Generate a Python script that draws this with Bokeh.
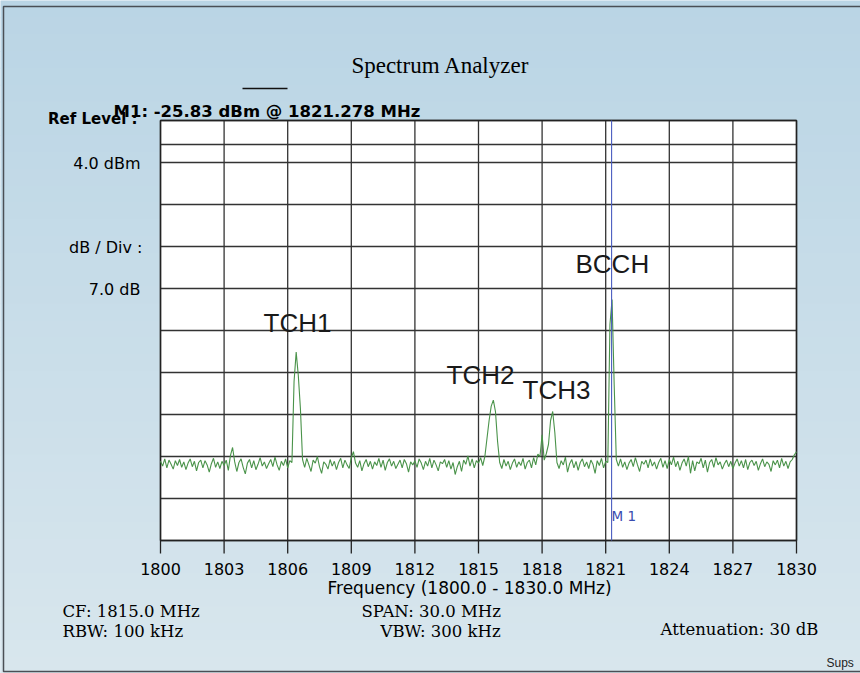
from bokeh.plotting import figure
from bokeh.models import Range1d
from bokeh.core.properties import value
from bokeh.embed import file_html
from bokeh.resources import INLINE

# ---------------- data ----------------
sweep_start_mhz = 1800.0
sweep_step_mhz = 0.1
# measured trace level (dBm), one value per 0.1 MHz from 1800.0 to 1830.0
trace_dbm = [
    -52.8, -53.6, -52.4, -53.9, -52.6, -53.3, -54.1, -52.7, -53.5, -52.5,  # 1800
    -53.8, -52.9, -54.2, -53.1, -52.4, -53.7, -52.8, -54.4, -53.0, -52.6,  # 1801
    -53.9, -52.7, -53.4, -54.6, -53.2, -52.3, -53.8, -52.9, -54.0, -52.8,  # 1802
    -53.5, -52.6, -54.3, -51.8, -50.5, -52.9, -54.5, -53.0, -52.4, -53.8,  # 1803
    -54.9, -53.1, -52.5, -53.9, -52.7, -54.2, -53.3, -52.2, -53.6, -52.9,  # 1804
    -54.0, -53.2, -52.5, -53.7, -52.1, -53.4, -54.3, -52.8, -53.5, -52.4,  # 1805
    -53.9, -52.7, -53.0, -39.5, -34.6, -38.5, -44.0, -52.5, -53.8, -52.3,  # 1806 TCH1
    -53.4, -54.5, -52.6, -53.1, -52.0, -53.7, -54.8, -52.9, -53.3, -54.1,  # 1807
    -52.5, -53.6, -52.8, -54.2, -53.0, -52.3, -53.9, -52.6, -53.4, -54.0,  # 1808
    -52.2, -51.2, -53.1, -53.8, -52.7, -54.4, -53.2, -52.5, -53.7, -52.8,  # 1809
    -54.1, -52.9, -53.5, -52.3, -53.8, -52.6, -54.3, -53.0, -52.4, -53.6,  # 1810
    -52.8, -54.0, -53.3, -52.6, -53.9, -52.5, -53.2, -54.6, -52.9, -53.4,  # 1811
    -52.7, -53.8, -52.4, -53.1, -54.2, -52.8, -53.6, -52.3, -53.9, -52.6,  # 1812
    -53.4, -54.4, -52.9, -53.2, -52.5, -53.8, -52.7, -54.1, -53.0, -55.0,  # 1813
    -53.7, -52.8, -54.5, -52.6, -53.3, -51.9, -53.6, -52.4, -53.9, -52.7,  # 1814
    -53.1, -52.2, -53.5, -52.0, -49.0, -46.0, -43.6, -42.6, -44.5, -49.5,  # 1815 TCH2
    -53.0, -54.0, -52.5, -53.6, -52.8, -54.2, -53.1, -52.4, -53.8, -52.9,  # 1816
    -53.5, -52.3, -54.1, -53.0, -52.6, -53.9, -52.2, -53.4, -51.6, -52.0,  # 1817
    -48.4, -52.6, -51.5, -50.0, -46.0, -44.5, -48.0, -53.0, -54.0, -52.7,  # 1818 TCH3
    -53.4, -52.1, -54.6, -53.2, -52.5, -53.9, -52.8, -54.3, -53.0, -52.4,  # 1819
    -53.7, -52.9, -54.0, -52.6, -53.3, -54.8, -52.7, -53.5, -52.3, -53.9,  # 1820
    -52.8, -53.0, -30.0, -25.83, -40.0, -52.5, -53.6, -52.4, -53.8, -52.9,  # 1821 BCCH
    -54.2, -53.1, -52.5, -53.7, -52.2, -53.4, -54.5, -52.8, -53.3, -52.6,  # 1822
    -53.9, -52.4, -53.6, -52.9, -54.1, -53.0, -52.3, -53.8, -52.7, -54.0,  # 1823
    -52.5, -53.4, -52.1, -53.7, -52.8, -54.3, -53.1, -52.4, -53.6, -52.0,  # 1824
    -54.8, -52.7, -54.4, -52.9, -53.2, -52.3, -53.9, -52.6, -54.6, -53.0,  # 1825
    -52.5, -53.8, -52.2, -53.4, -52.9, -54.1, -53.2, -52.6, -53.7, -52.8,  # 1826
    -54.0, -53.1, -52.4, -53.6, -52.7, -53.9, -52.5, -54.2, -53.0, -52.6,  # 1827
    -53.5, -52.8, -54.3, -53.2, -52.4, -53.7, -52.9, -53.3, -54.5, -52.7,  # 1828
    -53.4, -52.6, -53.9, -52.3, -53.6, -52.8, -54.0, -52.9, -52.5, -51.7,  # 1829
    -51.2,                                                                   # 1830
]
freq_mhz = [sweep_start_mhz + i * sweep_step_mhz for i in range(len(trace_dbm))]

x_ticks = [1800, 1803, 1806, 1809, 1812, 1815, 1818, 1821, 1824, 1827, 1830]
x_tick_labels = ["1800", "1803", "1806", "1809", "1812", "1815",
                 "1818", "1821", "1824", "1827", "1830"]
ref_level_dbm = 4.0
db_per_div = 7.0
n_div = 10
y_grid = [ref_level_dbm - k * db_per_div for k in range(n_div + 1)] + [0.0]

marker_freq = 1821.278
marker_dbm = -25.83

channel_names = ["TCH1", "TCH2", "TCH3", "BCCH"]

settings_row1 = ["CF: 1815.0 MHz", "SPAN: 30.0 MHz"]
settings_row2 = ["RBW: 100 kHz", "VBW: 300 kHz", "Attenuation: 30 dB"]

# ---------------- layout (page pixels) ----------------
W, H = 860, 673
FL, FR, FT, FB = 160, 796, 120, 540          # graticule box in page pixels
x0, x1 = x_ticks[0], x_ticks[-1]
y0, y1 = ref_level_dbm - n_div * db_per_div, ref_level_dbm


def dx(px):
    return x0 + (px - FL) * (x1 - x0) / (FR - FL)


def dy(py):
    return y1 - (py - FT) * (y1 - y0) / (FB - FT)


p = figure(width=W, height=H, output_backend="svg", toolbar_location=None,
           x_range=Range1d(dx(0), dx(W)), y_range=Range1d(dy(H), dy(0)),
           min_border=0, x_axis_location=None, y_axis_location=None)
p.outline_line_color = None
p.grid.visible = False
p.border_fill_color = "#c9dde9"
p.background_fill_color = "#c9dde9"

# scanned-paper tint: darker blue at the top, paler toward the bottom
top_rgb = (186, 213, 229)
bot_rgb = (216, 230, 237)
n_band = 40
for i in range(n_band):
    t = i / (n_band - 1)
    c = tuple(int(round(a + (b - a) * t)) for a, b in zip(top_rgb, bot_rgb))
    p.quad(left=dx(0), right=dx(W), top=dy(i * H / n_band),
           bottom=dy((i + 1) * H / n_band + 1),
           fill_color="#%02x%02x%02x" % c, line_color=None)

# outer frame of the screenshot
p.quad(left=dx(3), right=dx(W + 5), top=dy(6), bottom=dy(671),
       fill_color=None, line_color="#4a4f55", line_width=1.5)

# graticule
p.quad(left=x0, right=x1, bottom=y0, top=y1, fill_color="white", line_color=None)
p.segment(x0=x_ticks, y0=[y0] * len(x_ticks), x1=x_ticks, y1=[y1] * len(x_ticks),
          line_color="#333333", line_width=1.3)
p.segment(x0=[x0] * len(y_grid), y0=y_grid, x1=[x1] * len(y_grid), y1=y_grid,
          line_color="#333333", line_width=1.3)
tick_len = (y1 - y0) * 13 / (FB - FT)
p.segment(x0=x_ticks, y0=[y0] * len(x_ticks), x1=x_ticks,
          y1=[y0 - tick_len] * len(x_ticks), line_color="#222222", line_width=1.3)
p.quad(left=x0, right=x1, bottom=y0, top=y1, fill_color=None,
       line_color="#222222", line_width=1.5)

# trace and marker
p.line(freq_mhz, trace_dbm, line_color="#4a934a", line_width=1.1)
p.segment(x0=[marker_freq], y0=[y0], x1=[marker_freq], y1=[y1],
          line_color="#4a5cc0", line_width=1.1)


def txt(x, y, text, font="DejaVu Sans", size="16px", align="left",
        color="black", style="normal"):
    xs = x if isinstance(x, list) else [x]
    ys = y if isinstance(y, list) else [y]
    ts = text if isinstance(text, list) else [text]
    p.text(x=xs, y=ys, text=ts, text_font=value(font), text_font_size=value(size),
           text_align=align, text_baseline="middle", text_color=color,
           text_font_style=style)


# x tick labels and axis title (y = vertical centre of the capitals)
txt(x_ticks, [dy(568)] * len(x_ticks), x_tick_labels, size="16px", align="center")
txt(dx(327), dy(587), "Frequency (1800.0 - 1830.0 MHz)", size="17px")

# title and underline
txt(dx(440), dy(65), "Spectrum Analyzer", font="Liberation Serif", size="23px",
    align="center")
p.segment(x0=[dx(242)], y0=[dy(88)], x1=[dx(287)], y1=[dy(88)],
          line_color="#111111", line_width=1.5)

# left settings
txt(dx(137), dy(118.5), "Ref Level :", size="15px", align="right", style="bold")
txt(dx(113), dy(110.5), f"M1: {marker_dbm:.2f} dBm @ {marker_freq:.3f} MHz",
    size="16.5px", style="bold")
txt(dx(140), dy(162.5), f"{ref_level_dbm:.1f} dBm", align="right")
txt(dx(142), dy(246.5), "dB / Div :", align="right")
txt(dx(140), dy(289), f"{db_per_div:.1f} dB", align="right")

# channel labels
chan_pos = [(263, 322.5), (446, 374), (522, 389), (575, 263.5)]
for name, (px_, py_) in zip(channel_names, chan_pos):
    txt(dx(px_), dy(py_), name, font="Liberation Sans", size="26px", color="#1a1a1a")

txt(dx(611), dy(515), "M 1", size="13.5px", color="#3a4cb0")

# bottom settings
txt(dx(62), dy(610.5), settings_row1[0], font="DejaVu Serif", size="16.5px")
txt(dx(361), dy(610.5), settings_row1[1], font="DejaVu Serif", size="16.5px")
txt(dx(62), dy(630.5), settings_row2[0], font="DejaVu Serif", size="16.5px")
txt(dx(380), dy(630.5), settings_row2[1], font="DejaVu Serif", size="16.5px")
txt(dx(660), dy(629), settings_row2[2], font="DejaVu Serif", size="16.5px")
txt(dx(826), dy(662), "Sups", font="Liberation Sans", size="12px", color="#222222")

open("out.html", "w").write(file_html(p, INLINE))
